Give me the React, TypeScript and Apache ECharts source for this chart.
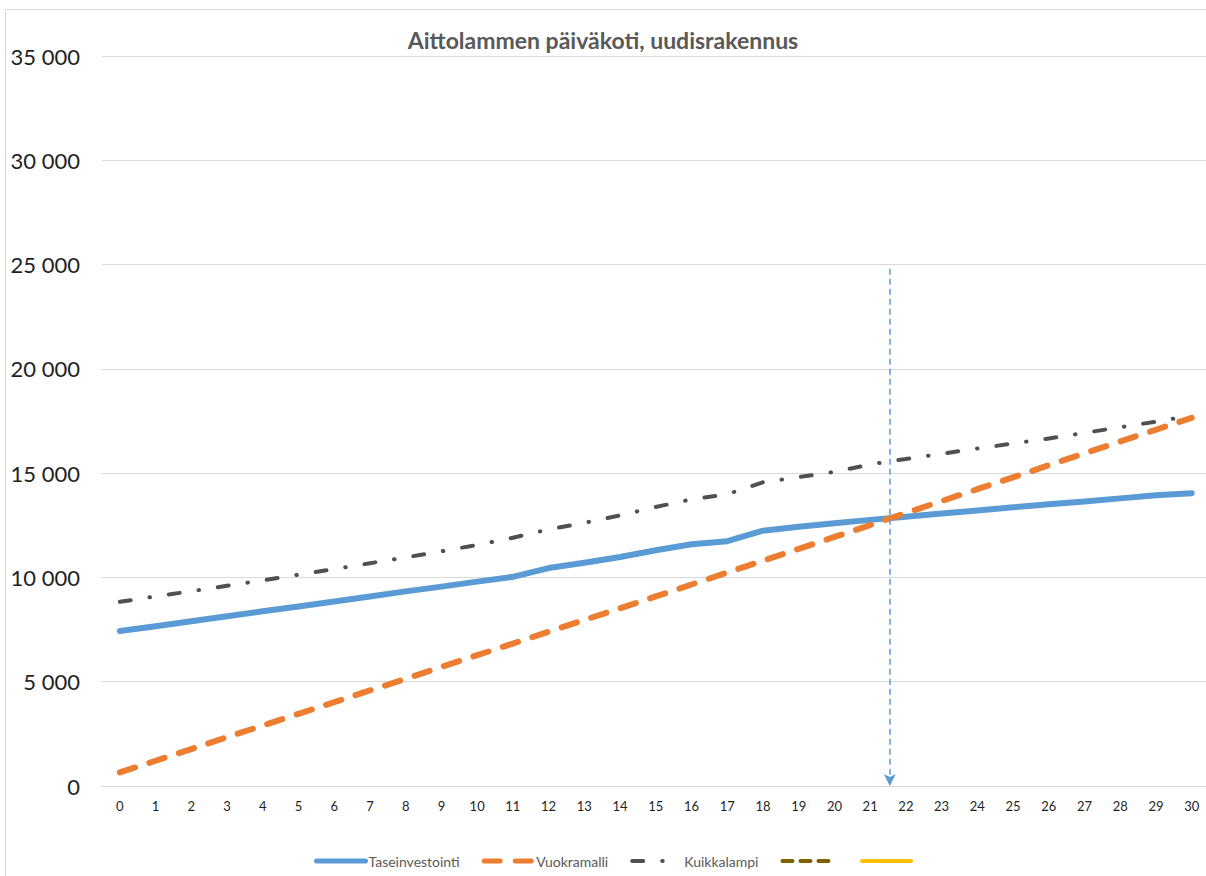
import React, { useEffect, useRef } from "react";
import * as echarts from "echarts";

const title = "Aittolammen päiväkoti, uudisrakennus";
const years = [0, 1, 2, 3, 4, 5, 6, 7, 8, 9, 10, 11, 12, 13, 14, 15, 16, 17, 18, 19, 20, 21, 22, 23, 24, 25, 26, 27, 28, 29, 30];
const seriesNames = ["Taseinvestointi", "Vuokramalli", "Kuikkalampi", " ", "  "];
const taseinvestointi = [7430, 7660, 7900, 8140, 8380, 8610, 8850, 9090, 9330, 9560, 9800, 10030, 10450, 10700, 10980, 11300, 11590, 11740, 12240, 12430, 12600, 12760, 12910, 13060, 13210, 13360, 13510, 13640, 13790, 13940, 14040];
const vuokramalli = [650, 1210, 1770, 2340, 2900, 3460, 4020, 4580, 5140, 5710, 6270, 6830, 7400, 7960, 8520, 9090, 9660, 10230, 10800, 11370, 11940, 12510, 13090, 13660, 14230, 14800, 15380, 15950, 16520, 17080, 17650];
const kuikkalampi = [8830, 9090, 9340, 9600, 9860, 10130, 10400, 10680, 10960, 11250, 11560, 11900, 12300, 12620, 12970, 13380, 13740, 13990, 14560, 14810, 15060, 15420, 15680, 15930, 16180, 16420, 16660, 16930, 17200, 17470, 17760];
const yTicks = [0, 5000, 10000, 15000, 20000, 25000, 30000, 35000];
const breakEvenYear = 21.55;
const arrowTop = 24800;

const FONT = "Lato, 'Open Sans', sans-serif";
const fmt = (v: number) => String(v).replace(/\B(?=(\d{3})+(?!\d))/g, " ");
const pairs = (vals: number[]) => vals.map((v, i) => [years[i], v]);

export default function App() {
  const ref = useRef<HTMLDivElement>(null);
  useEffect(() => {
    if (!ref.current) return;
    const chart = echarts.init(ref.current, undefined, { renderer: "svg" });
    chart.setOption({
      animation: false,
      backgroundColor: "#ffffff",
      textStyle: { fontFamily: FONT },
      title: {
        text: title,
        left: "center",
        top: 23,
        textStyle: { fontFamily: FONT, fontSize: 23, fontWeight: "bold", color: "#595959" },
      },
      graphic: [
        {
          type: "rect",
          silent: true,
          shape: { x: 5.5, y: 9.5, width: 1400, height: 1000 },
          style: { fill: "none", stroke: "#D9D9D9", lineWidth: 1 },
        },
      ],
      grid: { left: 102, right: 0, top: 56, bottom: 90 },
      xAxis: {
        type: "value",
        min: -0.5,
        max: 30.4,
        axisLine: { show: true, lineStyle: { color: "#D9D9D9", width: 1 } },
        axisTick: { show: false },
        splitLine: { show: false },
        axisLabel: {
          customValues: years,
          fontSize: 13,
          color: "#1f1f1f",
          margin: 13,
          fontFamily: FONT,
        },
      },
      yAxis: {
        type: "value",
        min: yTicks[0],
        max: yTicks[yTicks.length - 1],
        interval: yTicks[1] - yTicks[0],
        axisLine: { show: false },
        axisTick: { show: false },
        splitLine: { lineStyle: { color: "#D9D9D9", width: 1 } },
        axisLabel: {
          formatter: (v: number) => fmt(v),
          fontSize: 22,
          color: "#1f1f1f",
          margin: 22,
          fontFamily: FONT,
        },
      },
      legend: {
        left: 309,
        top: 849,
        itemWidth: 49,
        itemHeight: 16,
        itemGap: 22,
        textStyle: { fontSize: 14, color: "#595959", fontFamily: FONT, padding: [0, 0, 0, -2] },
        itemStyle: { opacity: 0 },
        lineStyle: { width: "inherit" },
        data: [
          { name: seriesNames[0], lineStyle: { width: 5 } },
          { name: seriesNames[1], lineStyle: { width: 5 } },
          { name: seriesNames[2], lineStyle: { width: 4 } },
          { name: seriesNames[3], lineStyle: { width: 4 } },
          { name: seriesNames[4], lineStyle: { width: 4 } },
        ],
      },
      series: [
        {
          name: seriesNames[0],
          type: "line",
          data: pairs(taseinvestointi),
          symbol: "none",
          lineStyle: { color: "#5B9BD5", width: 6, cap: "round", join: "round" },
          itemStyle: { color: "#5B9BD5" },
          z: 3,
          markLine: {
            silent: true,
            symbol: ["none", "arrow"],
            symbolSize: [9, 12],
            label: { show: false },
            lineStyle: { color: "#5B9BD5", width: 1.5, type: [6, 4] },
            data: [[{ coord: [breakEvenYear, arrowTop] }, { coord: [breakEvenYear, 0] }]],
          },
        },
        {
          name: seriesNames[1],
          type: "line",
          data: pairs(vuokramalli),
          symbol: "none",
          lineStyle: { color: "#ED7D31", width: 6, type: [16, 15], cap: "round", join: "round" },
          itemStyle: { color: "#ED7D31" },
          z: 4,
        },
        {
          name: seriesNames[2],
          type: "line",
          data: pairs(kuikkalampi),
          symbol: "none",
          lineStyle: { color: "#505050", width: 4, type: [11, 19, 0.5, 19], cap: "round", join: "round" },
          itemStyle: { color: "#505050" },
          z: 2,
        },
        {
          name: seriesNames[3],
          type: "line",
          data: [],
          symbol: "none",
          lineStyle: { color: "#7F6000", width: 4, type: [10, 8], cap: "round" },
          itemStyle: { color: "#7F6000" },
        },
        {
          name: seriesNames[4],
          type: "line",
          data: [],
          symbol: "none",
          lineStyle: { color: "#FFC000", width: 4, cap: "round" },
          itemStyle: { color: "#FFC000" },
        },
      ],
    });
    return () => chart.dispose();
  }, []);
  return (
    <div
      ref={ref}
      style={{ position: "fixed", left: 0, top: 0, width: 1206, height: 876 }}
    />
  );
}
